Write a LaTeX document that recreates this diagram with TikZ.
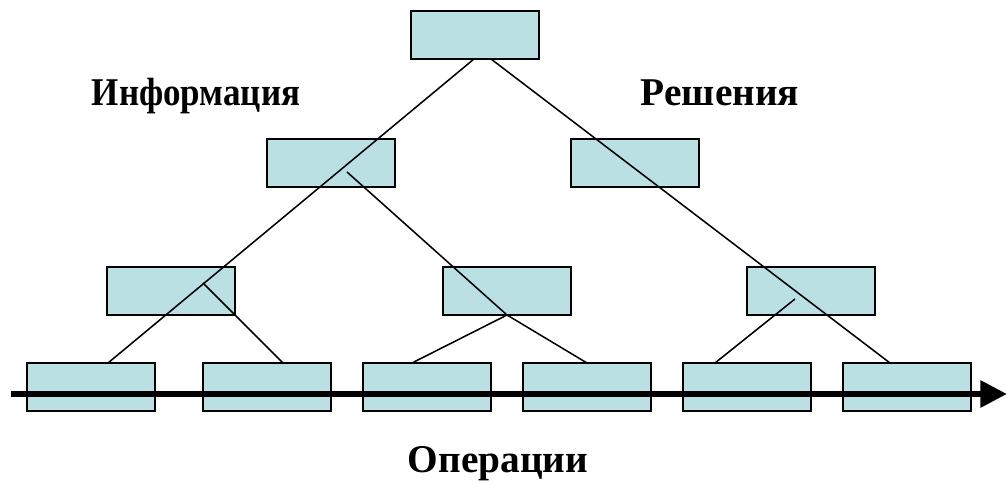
\documentclass[tikz,border=0pt]{standalone}
\usepackage{fontspec}
\setmainfont{Liberation Serif}
\usetikzlibrary{calc,arrows.meta}
\definecolor{boxfill}{RGB}{187,224,227}
\begin{document}
\begin{tikzpicture}[x=0.75pt,y=-0.75pt,
  unit/.style={draw=black,fill=boxfill,line width=1.5pt,minimum width=96pt,minimum height=36pt,inner sep=0pt,outer sep=0pt},
  link/.style={draw=black,line width=1.15pt},
  axis/.style={draw=black,line width=4.5pt,-{Triangle[length=20pt,width=19.5pt]}},
  lbl/.style={font=\fontsize{29.5}{32}\selectfont\bfseries,inner sep=0pt,anchor=base}]
\useasboundingbox (0,0) rectangle (1007,484);
% boxes of the hierarchy
\node[unit] (t)   at (475,35)  {};
\node[unit] (l2a) at (331,163) {};
\node[unit] (l2b) at (634.5,163) {};
\node[unit] (l3a) at (171,291) {};
\node[unit] (l3b) at (507,291) {};
\node[unit] (l3c) at (811,291) {};
\node[unit] (b1)  at (91,387)  {};
\node[unit] (b2)  at (267,387) {};
\node[unit] (b3)  at (427,387) {};
\node[unit] (b4)  at (587,387) {};
\node[unit] (b5)  at (747,387) {};
\node[unit] (b6)  at (907,387) {};
% connectors
\draw[link] ($(t.south)+(-1,0)$) -- ($(b1.north)+(17,0)$);
\draw[link] ($(t.south)+(16,0)$) -- ($(b6.north)+(-17,0)$);
\draw[link] ($(l2a.center)+(16,9)$) -- (l3b.south);
\draw[link] (l3b.south) -- (b4.north);
\draw[link] (l3b.south) -- ($(b3.north)+(-15,0)$);
\draw[link] ($(l3a.center)+(32,-8)$) -- ($(b2.north)+(16,0)$);
\draw[link] ($(l3c.center)+(-16,8)$) -- ($(b5.north)+(-32,0)$);
% time axis
\coordinate (axL) at (11,394);
\coordinate (axR) at (1007,394);
\draw[axis] (axL) -- (axR);
% captions
\node[lbl,xscale=0.89] (info) at (196,106) {Информация};
\node[lbl] (dec)  at (720,106) {Решения};
\node[lbl] (ops)  at (498,473) {Операции};
\end{tikzpicture}
\end{document}
